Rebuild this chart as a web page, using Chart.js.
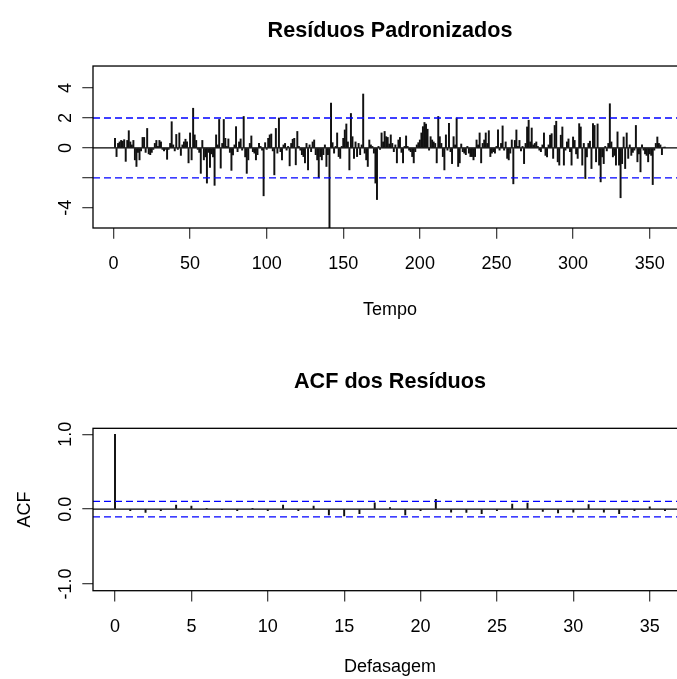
<!DOCTYPE html>
<html>
<head>
<meta charset="utf-8">
<script src="https://cdn.jsdelivr.net/npm/chart.js@4.4.0/dist/chart.umd.min.js"></script>
<style>
  html, body { margin: 0; padding: 0; background: #fff; overflow: hidden; }
  #wrap { position: relative; width: 677px; height: 679px; overflow: hidden; }
  canvas { position: absolute; left: 0; }
</style>
</head>
<body>
<div id="wrap">
  <canvas id="resid" width="700" height="340" style="top:0"></canvas>
  <canvas id="acf" width="700" height="339" style="top:340px"></canvas>
</div>
<script>
// Resíduos padronizados (t = 1..360)
const residuos = [
  0.64, -0.58, 0.3, 0.4, 0.5, 0.45, 0.55, -0.9, 0.5, 1.15,
  0.4, 0.2, 0.5, -0.8, -1.24, -0.3, -0.8, -0.2, 0.7, 0.7,
  -0.3, 1.3, -0.4, -0.45, -0.3, -0.1, 0.3, 0.5, 0.1, 0.5,
  0.4, -0.1, -0.2, -0.1, -0.76, -0.1, 0.3, 1.75, 0.2, -0.2,
  0.9, -0.1, 1.0, -0.5, 0.2, 0.4, 0.58, 0.4, -1.0, 1.0,
  -0.8, 2.65, 0.87, 0.5, -0.1, -0.3, -1.7, 0.5, -0.8, -0.6,
  -2.35, -0.3, -1.3, -0.4, -0.6, -2.5, 0.87, 0.2, 1.9, -1.35,
  0.3, 1.9, 0.64, 0.1, 0.6, -0.3, -1.5, -0.47, 0.2, 1.42,
  -0.25, 0.4, 0.6, -0.15, 2.1, -0.6, -1.7, -0.8, 0.3, 0.8,
  -0.25, -0.35, -0.8, -0.45, 0.3, 0.1, -0.15, -3.2, 0.35, -0.1,
  0.64, 0.87, 0.93, -0.2, -1.8, 1.3, -0.35, 2.0, -0.25, -0.8,
  0.2, 0.3, -0.15, 0.1, -1.2, 0.3, 0.58, 0.64, -1.13, 1.1,
  0.1, -0.15, -0.45, -0.58, -1.0, 0.3, -1.47, 0.2, -0.25, 0.4,
  0.53, -0.45, -0.8, -2.0, -0.58, -0.8, -0.45, 0.2, -1.24, -0.45,
  -5.6, 3.0, 0.35, -0.35, 0.1, 1.0, -0.58, -0.7, 0.1, 0.64,
  1.2, 1.6, 0.4, -1.47, 2.3, 0.75, -0.7, 0.4, -0.58, 0.3,
  -0.45, 0.2, 3.6, -0.35, -0.8, -1.24, 0.53, 0.2, 0.1, -0.35,
  -2.35, -3.45, 0.1, -0.1, 1.0, 0.4, 1.1, 0.75, 0.7, 0.26,
  0.87, 0.3, -0.25, 0.2, -1.0, 0.53, 0.7, -0.3, -1.0, 0.1,
  0.8, 0.1, -0.15, -0.25, -0.58, -1.0, -0.25, 0.2, 0.35, 0.53,
  1.0, 1.42, 1.7, 1.6, 1.25, -0.15, 0.75, 0.53, 0.4, 0.3,
  -1.0, 2.1, 0.75, 0.3, -0.58, -1.47, 0.87, -0.15, 1.65, -0.25,
  -1.05, 0.75, 0.2, 2.0, -1.24, -1.0, 0.26, -0.25, -0.35, -0.45,
  0.1, -0.35, -0.58, -0.58, -0.8, -0.58, 0.53, 0.2, 1.0, -1.0,
  0.3, 0.53, 1.0, 0.3, 1.15, -0.58, -0.35, -0.25, -0.35, 0.1,
  1.2, -0.15, 0.3, 1.47, -0.15, 0.4, -0.7, -0.8, -0.35, 0.53,
  -2.4, 0.5, 1.2, 0.1, 0.5, -0.2, 0.1, -1.05, 0.3, 1.4,
  1.85, 0.4, 1.33, 0.2, 0.3, 0.4, 0.1, -0.15, -0.25, 0.2,
  1.0, -0.5, -0.6, 0.2, 0.85, 0.95, -0.7, 1.5, 1.78, -0.93,
  -1.15, 0.85, 1.4, -1.15, -0.15, 0.4, 0.6, -0.25, -1.15, 0.73,
  0.5, -0.4, -0.7, 1.62, 1.4, -1.15, 0.3, -2.05, -0.6, 0.3,
  0.45, -1.38, 1.62, 1.5, -0.93, 1.6, -1.15, -2.27, -0.6, -1.05,
  0.1, -0.2, 0.3, 2.95, 0.4, -0.6, -0.5, -1.15, 1.07, -1.15,
  -3.33, -1.05, 0.73, -1.38, 1.0, -0.7, 0.2, -0.5, -0.3, -0.15,
  1.5, -0.93, -0.4, -1.6, 0.2, -0.15, -0.4, -0.5, -0.93, -0.4,
  -0.5, -2.45, -0.15, 0.3, 0.73, 0.3, 0.2, -0.45, 0.05, 0.05
];
const tempoTicks = [0, 50, 100, 150, 200, 250, 300, 350];
const residTicks = [-4, -2, 0, 2, 4];
const residLabels = ['-4', '', '0', '2', '4'];
const residBand = [2, -2];

// ACF dos resíduos
const lags = [0, 1, 2, 3, 4, 5, 6, 7, 8, 9, 10, 11, 12, 13, 14, 15, 16, 17, 18,
  19, 20, 21, 22, 23, 24, 25, 26, 27, 28, 29, 30, 31, 32, 33, 34, 35, 36];
const acfValues = [1.0, -0.02, -0.045, -0.02, 0.054, 0.04, 0.005, -0.005, -0.02, 0.005,
  -0.02, 0.054, -0.02, 0.04, -0.076, -0.09, -0.06, 0.085, 0.02, -0.076,
  -0.02, 0.13, -0.04, -0.045, -0.06, -0.02, 0.067, 0.08, -0.03, -0.05,
  -0.04, 0.06, -0.04, -0.06, -0.02, 0.03, -0.02];
const lagTicks = [0, 5, 10, 15, 20, 25, 30, 35];
const acfTicks = [-1, 0, 1];
const acfLabels = ['-1.0', '0.0', '1.0'];
const acfBand = [0.1033, -0.1033];

const FONT = "'Liberation Sans', Arial, Helvetica, sans-serif";
Chart.defaults.font.family = FONT;
Chart.defaults.font.size = 18;
Chart.defaults.color = '#000';

// moldura do gráfico, como box() do R
const boxPlugin = {
  id: 'box',
  afterDraw(chart) {
    const { ctx, chartArea: a } = chart;
    ctx.save();
    ctx.strokeStyle = '#000';
    ctx.lineWidth = 1.3;
    ctx.strokeRect(a.left, a.top, a.right - a.left, a.bottom - a.top);
    ctx.restore();
  }
};

function hline(y, xMin, xMax, color, dash, order) {
  return {
    type: 'line',
    data: [{ x: xMin, y: y }, { x: xMax, y: y }],
    borderColor: color,
    borderWidth: 1.4,
    borderDash: dash,
    pointRadius: 0,
    order: order
  };
}

function spikePanel(canvasId, opts) {
  const datasets = [{
    type: 'bar',
    data: opts.xs.map((x, i) => ({ x: x, y: opts.ys[i] })),
    backgroundColor: '#111',
    barThickness: 1.3,
    order: 3
  }];
  datasets.push(hline(0, opts.xMin, opts.xMax, '#000', [], 2));
  opts.band.forEach(b => datasets.push(hline(b, opts.xMin, opts.xMax, '#0000ff', [7, 4], 1)));

  return new Chart(document.getElementById(canvasId), {
    type: 'bar',
    data: { datasets },
    plugins: [boxPlugin],
    options: {
      responsive: false,
      animation: false,
      layout: { padding: { left: 0, right: 13, top: 0, bottom: 0 } },
      plugins: {
        legend: { display: false },
        tooltip: { enabled: false },
        title: {
          display: true,
          fullSize: false,
          text: opts.title,
          color: '#000',
          font: { size: 21.6, weight: 'bold' },
          padding: opts.titlePad
        }
      },
      scales: {
        x: {
          type: 'linear',
          offset: false,
          min: opts.xMin,
          max: opts.xMax,
          afterBuildTicks: ax => { ax.ticks = opts.xTicks.map(v => ({ value: v })); },
          afterFit: ax => { ax.height = opts.xAxisHeight; },
          ticks: { autoSkip: false, maxRotation: 0, padding: 14.8, callback: v => String(v) },
          grid: { offset: false, drawOnChartArea: false, drawTicks: true, tickLength: 10.7, color: '#444', lineWidth: 1.3 },
          border: { display: false },
          title: { display: true, text: opts.xTitle, font: { size: 18 }, padding: { top: 0, bottom: opts.xTitlePad } }
        },
        y: {
          min: opts.yMin,
          max: opts.yMax,
          afterBuildTicks: ax => { ax.ticks = opts.yTicks.map(v => ({ value: v })); },
          afterFit: ax => { ax.width = 93; },
          ticks: {
            autoSkip: false, minRotation: 90, maxRotation: 90, crossAlign: 'center',
            padding: opts.yTickPad,
            callback: (v, i) => opts.yLabels[i]
          },
          grid: { drawOnChartArea: false, drawTicks: true, tickLength: 10.7, color: '#444', lineWidth: 1.3 },
          border: { display: false },
          title: { display: !!opts.yTitle, text: opts.yTitle || '', font: { size: 18 }, padding: { top: 14, bottom: 0 } }
        }
      }
    }
  });
}

spikePanel('resid', {
  title: 'Resíduos Padronizados',
  titlePad: { top: 18, bottom: 22.1 },
  xs: residuos.map((v, i) => i + 1),
  ys: residuos,
  xMin: -13.36, xMax: 374.36,
  xTicks: tempoTicks,
  xTitle: 'Tempo', xTitlePad: 19,
  xAxisHeight: 112,
  yMin: -5.35, yMax: 5.47,
  yTicks: residTicks, yLabels: residLabels, yTickPad: 8.6,
  band: residBand
});

spikePanel('acf', {
  title: 'ACF dos Resíduos',
  titlePad: { top: 29, bottom: 33.4 },
  xs: lags,
  ys: acfValues,
  xMin: -1.44, xMax: 37.44,
  xTicks: lagTicks,
  xTitle: 'Defasagem', xTitlePad: 1,
  xAxisHeight: 88.3,
  yMin: -1.09, yMax: 1.08,
  yTicks: acfTicks, yLabels: acfLabels, yTickPad: 1.1,
  yTitle: 'ACF',
  band: acfBand
});
</script>
</body>
</html>
